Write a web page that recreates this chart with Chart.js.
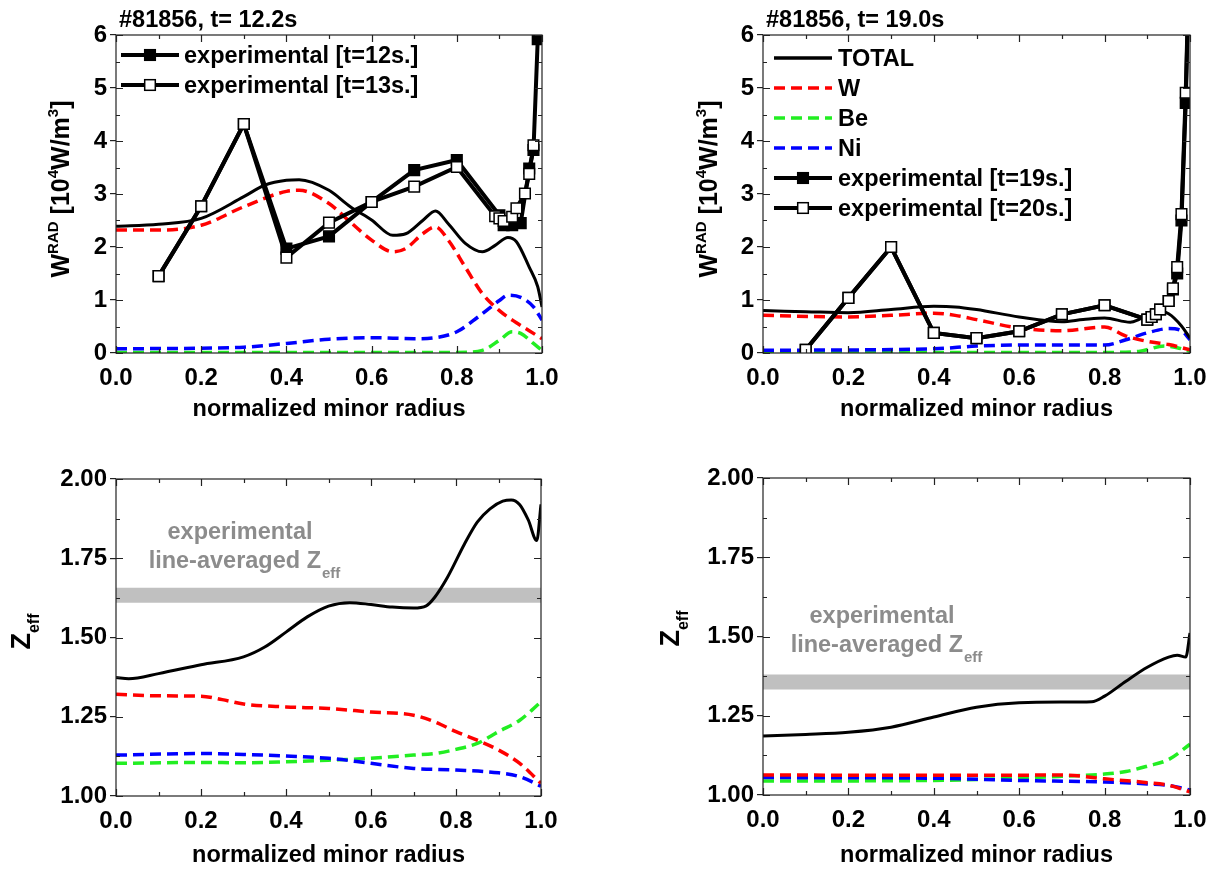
<!DOCTYPE html>
<html><head><meta charset="utf-8">
<script src="https://cdn.jsdelivr.net/npm/chart.js@4.4.1/dist/chart.umd.min.js"></script>
<style>
html,body{margin:0;padding:0;background:#fff;}
body{width:1219px;height:872px;position:relative;overflow:hidden;}
canvas{position:absolute;display:block;}
</style></head><body>
<canvas id="c1" width="600" height="436" style="left:0;top:0"></canvas>
<canvas id="c2" width="609" height="436" style="left:610px;top:0"></canvas>
<canvas id="c3" width="600" height="436" style="left:0;top:436px"></canvas>
<canvas id="c4" width="609" height="436" style="left:610px;top:436px"></canvas>
<script>
// ---------------- DATA ----------------
const panelTitles = ['#81856, t= 12.2s', '#81856, t= 19.0s'];
const xTitle = 'normalized minor radius';
const xTicks = [0, 0.2, 0.4, 0.6, 0.8, 1.0];
const xTickLabels = ['0.0', '0.2', '0.4', '0.6', '0.8', '1.0'];
const wTicks = [0, 1, 2, 3, 4, 5, 6];
const wTickLabels = ['0', '1', '2', '3', '4', '5', '6'];
const zTicks = [1.00, 1.25, 1.50, 1.75, 2.00];
const zTickLabels = ['1.00', '1.25', '1.50', '1.75', '2.00'];
const seriesNames = ['TOTAL', 'W', 'Be', 'Ni'];
const expNames12 = ['experimental [t=12s.]', 'experimental [t=13s.]'];
const expNames19 = ['experimental [t=19s.]', 'experimental [t=20s.]'];
const noteLine1 = 'experimental';
const noteLine2 = 'line-averaged Z';
const noteSub = 'eff';

// W_RAD, t = 12.2 s
const rTot12 = [0, 0.1, 0.2, 0.3, 0.35, 0.4, 0.43, 0.5, 0.55, 0.6, 0.65, 0.68, 0.72, 0.75, 0.78, 0.82, 0.86, 0.89, 0.92, 0.94, 0.97, 0.99, 1.0];
const tot12  = [2.39, 2.43, 2.54, 2.95, 3.17, 3.26, 3.27, 3.07, 2.76, 2.51, 2.22, 2.25, 2.50, 2.68, 2.44, 2.07, 1.91, 2.03, 2.18, 2.10, 1.62, 1.25, 0.87];
const rW12 = [0, 0.1, 0.2, 0.3, 0.4, 0.43, 0.5, 0.55, 0.6, 0.65, 0.68, 0.72, 0.75, 0.78, 0.82, 0.86, 0.9, 0.94, 0.97, 1.0];
const w12  = [2.32, 2.32, 2.41, 2.76, 3.05, 3.07, 2.82, 2.47, 2.13, 1.91, 1.97, 2.25, 2.38, 2.13, 1.62, 1.12, 0.80, 0.57, 0.42, 0.27];
const rBe12 = [0, 0.2, 0.4, 0.6, 0.8, 0.86, 0.9, 0.93, 0.95, 0.98, 1.0];
const be12  = [0.01, 0.01, 0.01, 0.01, 0.01, 0.05, 0.24, 0.40, 0.37, 0.18, 0.05];
const rNi12 = [0, 0.2, 0.3, 0.4, 0.5, 0.6, 0.7, 0.75, 0.8, 0.85, 0.9, 0.92, 0.95, 0.98, 1.0];
const ni12  = [0.08, 0.09, 0.11, 0.18, 0.26, 0.29, 0.27, 0.29, 0.40, 0.68, 0.99, 1.09, 1.05, 0.87, 0.62];
const rExpA12 = [0.1, 0.2, 0.3, 0.4, 0.5, 0.6, 0.7, 0.8, 0.9, 0.91, 0.93, 0.95, 0.97, 0.98, 0.99];
const expA12  = [1.45, 2.77, 4.32, 1.97, 2.20, 2.85, 3.45, 3.64, 2.60, 2.41, 2.41, 2.45, 3.48, 3.83, 5.92];
const rExpB12 = [0.1, 0.2, 0.3, 0.4, 0.5, 0.6, 0.7, 0.8, 0.89, 0.9, 0.91, 0.93, 0.94, 0.96, 0.97, 0.98];
const expB12  = [1.45, 2.77, 4.32, 1.80, 2.46, 2.85, 3.14, 3.51, 2.58, 2.54, 2.49, 2.57, 2.73, 3.01, 3.38, 3.92];

// W_RAD, t = 19.0 s
const rTot19 = [0, 0.1, 0.2, 0.3, 0.4, 0.45, 0.5, 0.6, 0.7, 0.75, 0.8, 0.86, 0.88, 0.92, 0.95, 0.98, 1.0];
const tot19  = [0.80, 0.78, 0.76, 0.82, 0.88, 0.87, 0.82, 0.68, 0.59, 0.63, 0.66, 0.58, 0.63, 0.80, 0.74, 0.51, 0.28];
const rW19 = [0, 0.2, 0.3, 0.4, 0.45, 0.5, 0.6, 0.7, 0.8, 0.85, 0.9, 0.95, 1.0];
const w19  = [0.71, 0.68, 0.71, 0.75, 0.71, 0.63, 0.47, 0.42, 0.49, 0.32, 0.22, 0.16, 0.06];
const rBe19 = [0, 0.4, 0.8, 0.88, 0.94, 0.97, 1.0];
const be19  = [0.01, 0.01, 0.01, 0.03, 0.13, 0.10, 0.03];
const rNi19 = [0, 0.4, 0.5, 0.6, 0.8, 0.85, 0.9, 0.95, 0.98, 1.0];
const ni19  = [0.05, 0.08, 0.13, 0.15, 0.15, 0.25, 0.38, 0.46, 0.42, 0.25];
const rExpA19 = [0.1, 0.2, 0.3, 0.4, 0.5, 0.6, 0.7, 0.8, 0.9, 0.91, 0.92, 0.93, 0.95, 0.96, 0.97, 0.98, 0.99, 1.0];
const expA19  = [0.06, 1.04, 2.00, 0.38, 0.28, 0.41, 0.73, 0.90, 0.63, 0.68, 0.73, 0.82, 0.98, 1.20, 1.50, 2.50, 4.72, 8.0];
const rExpB19 = [0.1, 0.2, 0.3, 0.4, 0.5, 0.6, 0.7, 0.8, 0.9, 0.91, 0.92, 0.93, 0.95, 0.96, 0.97, 0.98, 0.99, 1.0];
const expB19  = [0.06, 1.04, 2.00, 0.38, 0.28, 0.41, 0.73, 0.90, 0.63, 0.68, 0.73, 0.82, 0.98, 1.22, 1.62, 2.62, 4.91, 8.0];

// Z_eff, t = 12.2 s
const rZTot12 = [0, 0.03, 0.1, 0.2, 0.3, 0.35, 0.4, 0.45, 0.5, 0.55, 0.6, 0.65, 0.7, 0.73, 0.75, 0.78, 0.82, 0.85, 0.88, 0.91, 0.93, 0.95, 0.97, 0.99, 1.0];
const zTot12  = [1.374, 1.370, 1.386, 1.414, 1.439, 1.470, 1.517, 1.565, 1.599, 1.610, 1.604, 1.596, 1.593, 1.600, 1.627, 1.690, 1.795, 1.864, 1.906, 1.930, 1.934, 1.919, 1.871, 1.806, 1.920];
const rZW12 = [0, 0.1, 0.2, 0.25, 0.3, 0.4, 0.5, 0.6, 0.7, 0.75, 0.8, 0.85, 0.9, 0.95, 1.0];
const zW12  = [1.321, 1.316, 1.315, 1.304, 1.290, 1.281, 1.276, 1.265, 1.255, 1.234, 1.203, 1.176, 1.145, 1.103, 1.040];
const rZBe12 = [0, 0.2, 0.3, 0.4, 0.5, 0.6, 0.7, 0.75, 0.8, 0.85, 0.9, 0.95, 1.0];
const zBe12  = [1.103, 1.106, 1.105, 1.108, 1.113, 1.119, 1.129, 1.134, 1.147, 1.166, 1.203, 1.239, 1.297];
const rZNi12 = [0, 0.2, 0.3, 0.4, 0.5, 0.6, 0.7, 0.8, 0.9, 0.95, 1.0];
const zNi12  = [1.129, 1.134, 1.131, 1.126, 1.119, 1.103, 1.087, 1.082, 1.073, 1.061, 1.031];
const bandX = [0, 1];
const band12 = [1.610, 1.657];

// Z_eff, t = 19.0 s
const rZTot19 = [0, 0.1, 0.2, 0.3, 0.4, 0.5, 0.6, 0.7, 0.77, 0.8, 0.85, 0.9, 0.95, 0.97, 0.99, 1.0];
const zTot19  = [1.186, 1.191, 1.198, 1.214, 1.246, 1.277, 1.291, 1.293, 1.294, 1.312, 1.359, 1.403, 1.435, 1.441, 1.435, 1.511];
const rZW19 = [0, 0.5, 0.7, 0.8, 0.9, 0.95, 1.0];
const zW19  = [1.063, 1.062, 1.063, 1.051, 1.039, 1.031, 1.010];
const rZBe19 = [0, 0.4, 0.6, 0.7, 0.8, 0.85, 0.9, 0.95, 1.0];
const zBe19  = [1.044, 1.046, 1.053, 1.059, 1.066, 1.074, 1.091, 1.112, 1.160];
const rZNi19 = [0, 0.4, 0.6, 0.8, 0.9, 0.95, 1.0];
const zNi19  = [1.055, 1.053, 1.046, 1.041, 1.035, 1.030, 1.016];
const band19 = [1.333, 1.380];

// ---------------- STYLE ----------------
const FT = "'Liberation Sans', Arial, sans-serif";
const COL = { TOTAL: '#000000', W: '#ff0000', Be: '#22ee22', Ni: '#0000ff' };
const DASH = [11, 6];
const TXT = 23.5;

function zip(xs, ys) { return xs.map((x, i) => ({ x: x, y: ys[i] })); }

function modelDs(name, xs, ys, order) {
  const solid = name === 'TOTAL';
  return {
    label: name, data: zip(xs, ys), borderColor: COL[name],
    borderWidth: solid ? 3 : 3.5, borderDash: solid ? [] : DASH,
    pointRadius: 0, cubicInterpolationMode: 'monotone', fill: false, order: order
  };
}
function expDs(name, xs, ys, filled, order) {
  return {
    label: name, data: zip(xs, ys), borderColor: '#000', borderWidth: 4, tension: 0,
    pointStyle: 'rect', pointRadius: 7.5, pointBackgroundColor: filled ? '#000' : '#fff',
    pointBorderColor: '#000', pointBorderWidth: 1.5, fill: false, order: order
  };
}
function bandDs(xs, lohi) {
  return {
    label: 'band', data: zip(xs, [lohi[1], lohi[1]]), borderWidth: 0, pointRadius: 0,
    fill: { value: lohi[0] }, backgroundColor: '#c0c0c0', order: 100
  };
}

function txt(ctx, text, x, y, size, align) {
  ctx.font = 'bold ' + size + 'px ' + FT;
  ctx.textAlign = align || 'left';
  ctx.textBaseline = 'alphabetic';
  ctx.fillText(text, x, y);
  return ctx.measureText(text).width;
}
function richWidth(ctx, parts) {
  let w = 0;
  parts.forEach(p => { ctx.font = 'bold ' + p.size + 'px ' + FT; w += ctx.measureText(p.t).width; });
  return w;
}
// rotated rich text (reads bottom to top), centered at cy, baseline at screen x = bx
function rotRich(ctx, parts, bx, cy) {
  ctx.save();
  ctx.translate(bx, cy);
  ctx.rotate(-Math.PI / 2);
  const w = richWidth(ctx, parts);
  let x = -w / 2;
  ctx.fillStyle = '#000';
  ctx.textAlign = 'left';
  ctx.textBaseline = 'alphabetic';
  parts.forEach(p => {
    ctx.font = 'bold ' + p.size + 'px ' + FT;
    ctx.fillText(p.t, x, p.dy);
    x += ctx.measureText(p.t).width;
  });
  ctx.restore();
}

const deco = {
  id: 'deco',
  afterDraw(chart, args, o) {
    const ctx = chart.ctx, ca = chart.chartArea;
    const xs = chart.scales.x, ys = chart.scales.y;
    ctx.save();
    // frame and inward ticks on all four sides
    ctx.strokeStyle = '#222'; ctx.lineWidth = 1.2;
    ctx.strokeRect(ca.left, ca.top, ca.right - ca.left, ca.bottom - ca.top);
    ctx.beginPath();
    for (let i = 0; i <= 10; i++) {
      const px = Math.round(xs.getPixelForValue(i / 10)) + 0.5;
      const L = (i % 2 === 0) ? 7 : 4;
      ctx.moveTo(px, ca.bottom); ctx.lineTo(px, ca.bottom - L);
      ctx.moveTo(px, ca.top); ctx.lineTo(px, ca.top + L);
    }
    const n = Math.round((o.yMax - o.yMin) / o.yMinor);
    for (let i = 0; i <= n; i++) {
      const py = Math.round(ys.getPixelForValue(o.yMin + i * o.yMinor)) + 0.5;
      const L = (i % 2 === 0) ? 7 : 4;
      ctx.moveTo(ca.left, py); ctx.lineTo(ca.left + L, py);
      ctx.moveTo(ca.right, py); ctx.lineTo(ca.right - L, py);
    }
    ctx.stroke();

    ctx.fillStyle = '#000';
    if (o.title) txt(ctx, o.title, ca.left + o.titleDx, 27, TXT, 'left');
    rotRich(ctx, o.yTitle, ca.left + o.yTitleDx, (ca.top + ca.bottom) / 2 + (o.yTitleDy || 0));

    if (o.note) {
      ctx.fillStyle = '#8c8c8c';
      const nt = o.note;
      txt(ctx, noteLine1, ca.left + nt.x1, ca.top + nt.y1, TXT, 'center');
      ctx.font = 'bold ' + TXT + 'px ' + FT;
      const w2 = ctx.measureText(noteLine2).width;
      ctx.font = 'bold 15px ' + FT;
      const w3 = ctx.measureText(noteSub).width;
      const x2 = ca.left + nt.x2 - (w2 + w3) / 2;
      txt(ctx, noteLine2, x2, ca.top + nt.y2, TXT, 'left');
      txt(ctx, noteSub, x2 + w2 + 1, ca.top + nt.y2 + 10, 15, 'left');
    }

    if (o.legend) {
      const lg = o.legend;
      lg.items.forEach((name, i) => {
        const ds = chart.data.datasets.find(d => d.label === name);
        const y = ca.top + lg.y0 + i * lg.dy;
        const x0 = ca.left + lg.x0, x1 = ca.left + lg.x1;
        ctx.save();
        ctx.strokeStyle = ds.borderColor; ctx.lineWidth = Math.max(ds.borderWidth, 3.5);
        ctx.setLineDash(ds.borderDash || []);
        ctx.beginPath(); ctx.moveTo(x0, y); ctx.lineTo(x1, y); ctx.stroke();
        ctx.setLineDash([]);
        if (ds.pointRadius > 0) {
          const s = ds.pointRadius * Math.SQRT1_2;
          const xm = (x0 + x1) / 2;
          ctx.fillStyle = ds.pointBackgroundColor;
          ctx.fillRect(xm - s, y - s, 2 * s, 2 * s);
          ctx.lineWidth = ds.pointBorderWidth; ctx.strokeStyle = ds.pointBorderColor;
          ctx.strokeRect(xm - s, y - s, 2 * s, 2 * s);
        }
        ctx.restore();
        ctx.fillStyle = '#000';
        txt(ctx, name, ca.left + lg.tx, y + 8, TXT, 'left');
      });
    }
    ctx.restore();
  }
};

function makeChart(id, p) {
  const tickFont = { family: FT, size: 24, weight: 'bold' };
  return new Chart(document.getElementById(id), {
    type: 'line',
    data: { datasets: p.datasets },
    plugins: [deco],
    options: {
      responsive: false, animation: false, devicePixelRatio: 1, events: [],
      layout: { padding: { left: 0, right: p.padRight, top: p.padTop, bottom: 0 } },
      plugins: { legend: { display: false }, tooltip: { enabled: false }, deco: p.deco },
      scales: {
        x: {
          type: 'linear', min: 0, max: 1,
          afterBuildTicks: s => { s.ticks = xTicks.map(v => ({ value: v })); },
          ticks: { callback: (v, i) => xTickLabels[i], font: tickFont, color: '#000', padding: 3, autoSkip: false, maxRotation: 0 },
          grid: { display: false }, border: { display: false },
          title: { display: true, text: xTitle, color: '#000', font: { family: FT, size: TXT, weight: 'bold' }, padding: { top: 0, bottom: p.xTitlePad } },
          afterFit: s => { s.height = p.xHeight; }
        },
        y: {
          type: 'linear', min: p.yTicks[0], max: p.yTicks[p.yTicks.length - 1],
          afterBuildTicks: s => { s.ticks = p.yTicks.map(v => ({ value: v })); },
          ticks: { callback: (v, i) => p.yLabels[i], font: tickFont, color: '#000', padding: 3, autoSkip: false },
          grid: { display: true, drawOnChartArea: false, drawTicks: true, tickLength: 6, color: '#222', lineWidth: 1.2 },
          border: { display: false },
          afterFit: s => { s.width = p.yWidth; }
        }
      }
    }
  });
}

const wTitle = [
  { t: 'W', size: 25, dy: 0 }, { t: 'RAD', size: 15, dy: -11 },
  { t: ' [10', size: 25, dy: 0 }, { t: '4', size: 15, dy: -11 },
  { t: 'W/m', size: 25, dy: 0 }, { t: '3', size: 15, dy: -11 }, { t: ']', size: 25, dy: 0 }
];
const zTitle = [{ t: 'Z', size: 27, dy: 0 }, { t: 'eff', size: 16, dy: 9 }];

makeChart('c1', {
  padRight: 58, padTop: 35, yWidth: 116, xHeight: 83, xTitlePad: 12,
  yTicks: wTicks, yLabels: wTickLabels,
  datasets: [
    modelDs('TOTAL', rTot12, tot12, 10), modelDs('W', rW12, w12, 11),
    modelDs('Be', rBe12, be12, 13), modelDs('Ni', rNi12, ni12, 12),
    expDs(expNames12[0], rExpA12, expA12, true, 2), expDs(expNames12[1], rExpB12, expB12, false, 1)
  ],
  deco: { yMin: 0, yMax: 6, yMinor: 0.5, title: panelTitles[0], titleDx: 3, yTitle: wTitle, yTitleDx: -47, yTitleDy: -5,
    legend: { items: expNames12, x0: 5, x1: 63, tx: 68, y0: 20, dy: 30 } }
});
makeChart('c2', {
  padRight: 29, padTop: 35, yWidth: 153, xHeight: 83, xTitlePad: 12,
  yTicks: wTicks, yLabels: wTickLabels,
  datasets: [
    modelDs('TOTAL', rTot19, tot19, 10), modelDs('W', rW19, w19, 11),
    modelDs('Be', rBe19, be19, 13), modelDs('Ni', rNi19, ni19, 12),
    expDs(expNames19[0], rExpA19, expA19, true, 2), expDs(expNames19[1], rExpB19, expB19, false, 1)
  ],
  deco: { yMin: 0, yMax: 6, yMinor: 0.5, title: panelTitles[1], titleDx: 3, yTitle: wTitle, yTitleDx: -46, yTitleDy: -5,
    legend: { items: seriesNames.concat(expNames19), x0: 11, x1: 69, tx: 75, y0: 23, dy: 30 } }
});
makeChart('c3', {
  padRight: 59, padTop: 43, yWidth: 116, xHeight: 76, xTitlePad: 2,
  yTicks: zTicks, yLabels: zTickLabels,
  datasets: [
    bandDs(bandX, band12),
    modelDs('TOTAL', rZTot12, zTot12, 10), modelDs('W', rZW12, zW12, 11),
    modelDs('Be', rZBe12, zBe12, 13), modelDs('Ni', rZNi12, zNi12, 12)
  ],
  deco: { yMin: 1, yMax: 2, yMinor: 0.125, yTitle: zTitle, yTitleDx: -86, yTitleDy: -6,
    note: { x1: 124, y1: 60, x2: 128, y2: 89 } }
});
makeChart('c4', {
  padRight: 29, padTop: 42, yWidth: 153, xHeight: 77, xTitlePad: 2,
  yTicks: zTicks, yLabels: zTickLabels,
  datasets: [
    bandDs(bandX, band19),
    modelDs('TOTAL', rZTot19, zTot19, 10), modelDs('W', rZW19, zW19, 11),
    modelDs('Be', rZBe19, zBe19, 13), modelDs('Ni', rZNi19, zNi19, 12)
  ],
  deco: { yMin: 1, yMax: 2, yMinor: 0.125, yTitle: zTitle, yTitleDx: -84, yTitleDy: -8,
    note: { x1: 119, y1: 145, x2: 123, y2: 174 } }
});
</script>
</body></html>
